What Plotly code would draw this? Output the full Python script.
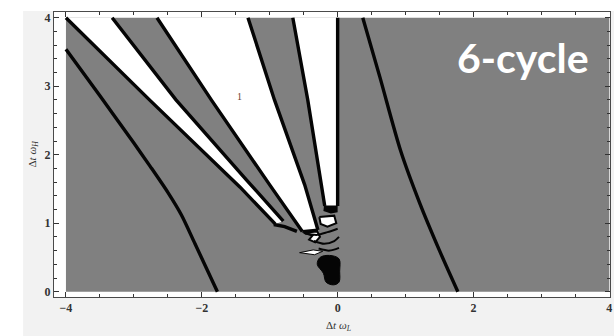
import plotly.graph_objects as go

# ---- data ----
x_limits = [-4, 4]
y_limits = [0, 4]

# isolated boundary curves (grey on both sides)
curve_left_x = [-4.0, -3.5, -3.0, -2.76, -2.5, -2.3, -2.1, -1.93, -1.77]
curve_left_y = [3.54, 2.86, 2.17, 1.83, 1.45, 1.12, 0.70, 0.34, 0.0]
curve_right_x = [0.37, 0.62, 0.93, 1.21, 1.50, 1.77]
curve_right_y = [4.0, 3.14, 2.05, 1.29, 0.60, 0.0]

# boundaries of the white wedges
line_a_x = [-4.0, -2.77, -1.44, -0.92]
line_a_y = [4.0, 2.80, 1.53, 0.99]
line_b_x = [-3.32, -2.38, -1.34, -0.80]
line_b_y = [4.0, 2.80, 1.63, 1.03]
line_c_x = [-2.66, -1.86, -1.00, -0.52]
line_c_y = [4.0, 2.80, 1.56, 0.88]
line_d_x = [-1.32, -0.93, -0.485, -0.29]
line_d_y = [4.0, 2.80, 1.56, 0.90]
line_e_x = [-0.66, -0.44, -0.24, -0.19]
line_e_y = [4.0, 2.80, 1.56, 1.25]
line_f_x = [0.0, 0.0]
line_f_y = [4.0, 1.25]

# small structures near the origin
cap_x = [-0.94, -0.78, -0.60]
cap_y = [0.98, 0.95, 0.88]
w3_base_x = [-0.20, 0.0, 0.0, -0.10, -0.21]
w3_base_y = [1.26, 1.26, 1.16, 1.14, 1.18]
bit_white_x = [-0.27, -0.05, -0.02, -0.15, -0.25]
bit_white_y = [1.09, 1.11, 1.00, 0.95, 0.99]
hook_white_x = [-0.50, -0.30, -0.26, -0.33, -0.42, -0.37]
hook_white_y = [0.86, 0.88, 0.80, 0.72, 0.76, 0.82]
swirl1_x = [-0.48, -0.30, -0.15, 0.0]
swirl1_y = [0.85, 0.83, 0.87, 0.92]
swirl2_x = [-0.35, -0.20, -0.05, 0.02]
swirl2_y = [0.74, 0.70, 0.74, 0.80]
swirl3_x = [-0.28, -0.12, 0.02]
swirl3_y = [0.63, 0.60, 0.64]
sliver_x = [-0.56, -0.36, -0.22, -0.34]
sliver_y = [0.57, 0.61, 0.59, 0.54]
blob_x = [-0.30, -0.26, -0.12, 0.02, 0.03, 0.02, -0.06, -0.17, -0.21]
blob_y = [0.40, 0.50, 0.53, 0.48, 0.30, 0.14, 0.10, 0.14, 0.27]

x_tick_vals = [-4, -2, 0, 2, 4]
x_tick_text = ["\u22124", "\u22122", "0", "2", "4"]
y_tick_vals = [0, 1, 2, 3, 4]
y_tick_text = ["0", "1", "2", "3", "4"]

region_label = "1"
region_label_pos = (-1.44, 2.85)
title_text = "6-cycle"

GREY = "#808080"
BLACK = "#050505"
LW = 3.4

fig = go.Figure()

def poly(xs, ys, fill, lw=0, lc=BLACK, shape="linear"):
    fig.add_trace(go.Scatter(x=list(xs) + [xs[0]], y=list(ys) + [ys[0]], mode="lines",
                             fill="toself", fillcolor=fill,
                             line=dict(width=lw, color=lc, shape=shape),
                             hoverinfo="skip", showlegend=False))

def line(xs, ys, lw=LW, shape="linear"):
    fig.add_trace(go.Scatter(x=xs, y=ys, mode="lines",
                             line=dict(width=lw, color=BLACK, shape=shape, smoothing=0.8),
                             hoverinfo="skip", showlegend=False))

# grey background region
poly([x_limits[0], x_limits[1], x_limits[1], x_limits[0]],
     [y_limits[0], y_limits[0], y_limits[1], y_limits[1]], GREY)

# white wedges built from their boundaries
poly(line_a_x + line_b_x[::-1], line_a_y + line_b_y[::-1], "white")
poly(line_c_x + line_d_x[::-1], line_c_y + line_d_y[::-1], "white")
poly(line_e_x + line_f_x[::-1], line_e_y + line_f_y[::-1], "white")

for xs, ys in [(line_a_x, line_a_y), (line_b_x, line_b_y), (line_c_x, line_c_y),
               (line_d_x, line_d_y), (line_e_x, line_e_y), (line_f_x, line_f_y)]:
    line(xs, ys)
line(curve_left_x, curve_left_y, shape="spline")
line(curve_right_x, curve_right_y, shape="spline")

# tip structures
line(cap_x, cap_y, lw=3.5)
line([line_c_x[-1], line_d_x[-1]], [line_c_y[-1], line_d_y[-1]], lw=3)
poly(w3_base_x, w3_base_y, BLACK)
poly(bit_white_x, bit_white_y, "white", lw=2)
poly(hook_white_x, hook_white_y, "white", lw=2)
line(swirl1_x, swirl1_y, lw=2, shape="spline")
line(swirl2_x, swirl2_y, lw=2, shape="spline")
line(swirl3_x, swirl3_y, lw=2, shape="spline")
poly(sliver_x, sliver_y, "white", lw=1)
poly(blob_x, blob_y, BLACK, lw=1, shape="spline")

tickfont = dict(family="Liberation Serif", size=12, color="#333333", weight="bold")
axis_common = dict(showline=True, mirror="ticks", linecolor="#4a4a4a", linewidth=1,
                   ticks="inside", ticklen=5, tickwidth=1, tickcolor="#333333",
                   showgrid=False, zeroline=False, tickfont=tickfont, fixedrange=True,
                   ticklabeloverflow="allow")

fig.update_layout(
    width=614, height=336, autosize=False,
    margin=dict(l=54, r=2, t=12, b=39),
    paper_bgcolor="#f2f2f2", plot_bgcolor="white",
    hovermode=False,
    xaxis=dict(range=[-4.176, 4.01], tickmode="array", tickvals=x_tick_vals, ticktext=x_tick_text,
               minor=dict(dtick=0.5, ticklen=3, ticks="inside", tickcolor="#333333"),
               **axis_common),
    yaxis=dict(range=[-0.077, 4.083], tickmode="array", tickvals=y_tick_vals, ticktext=y_tick_text,
               minor=dict(dtick=0.2, ticklen=3, ticks="inside", tickcolor="#333333"),
               **axis_common),
    shapes=[
        dict(type="rect", xref="paper", yref="paper", x0=-0.1, x1=-0.0556, y0=-0.16, y1=1.05,
             fillcolor="white", line=dict(width=0), layer="below"),
        dict(type="rect", xref="paper", yref="paper", x0=-0.1, x1=1.01, y0=1.0035, y1=1.05,
             fillcolor="white", line=dict(width=0), layer="below"),
    ],
    annotations=[
        dict(text="\u0394<i>t</i> <i>\u03c9</i><sub><i>L</i></sub>", xref="paper", yref="paper",
             x=(340 - 54) / 558, y=0, yanchor="top", yshift=-20, showarrow=False,
             font=dict(family="Liberation Serif", size=11, color="#333333")),
        dict(text="\u0394<i>t</i> <i>\u03c9</i><sub><i>H</i></sub>", xref="paper", yref="paper",
             x=0, y=0.5, xanchor="center", xshift=-22, textangle=-90, showarrow=False,
             font=dict(family="Liberation Serif", size=11, color="#333333")),
        dict(text=region_label, x=region_label_pos[0], y=region_label_pos[1], showarrow=False,
             font=dict(family="Liberation Serif", size=10, color="#6b3a2e")),
        dict(text="<b>" + title_text + "</b>", xref="paper", yref="paper",
             x=(525 - 54) / 558, y=(297 - 57) / 285, xanchor="center", yanchor="middle",
             showarrow=False, font=dict(family="Lato", size=41, color="white")),
    ],
)

# remove the browser's default page margin so the 614x336 figure fills the window exactly
fig.write_html("out.html",
               config={"displayModeBar": False, "staticPlot": True},
               post_script="document.body.style.margin='0';"
                           "document.documentElement.style.overflow='hidden';")
